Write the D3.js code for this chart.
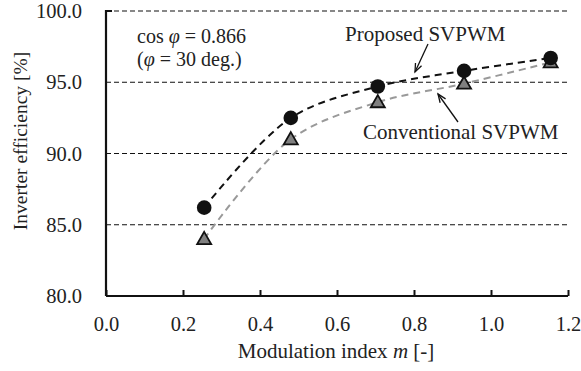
<!DOCTYPE html>
<html>
<head>
<meta charset="utf-8">
<script src="https://cdn.jsdelivr.net/npm/d3@7"></script>
<style>
  body { margin: 0; background: #fff; }
  text { font-family: "Liberation Serif", "Times New Roman", serif; fill: #222; }
</style>
</head>
<body>
<div id="chart"></div>
<script>
// datos
const modIndex = [0.255, 0.48, 0.706, 0.93, 1.155]
const proposed = [86.2, 92.5, 94.7, 95.8, 96.7]
const conventional = [84.0, 91.0, 93.6, 94.9, 96.4]
const xTicks = [0, 0.2, 0.4, 0.6, 0.8, 1.0, 1.2]
const yTicks = [80, 85, 90, 95, 100]

const width = 581
const height = 371
const margin = { top: 11, bottom: 75, left: 106, right: 13 }
const fs = "21px"

const svg = d3.select("div#chart").append("svg").attr("width", width).attr("height", height)

const x = d3.scaleLinear().domain([0, 1.2]).range([margin.left, width - margin.right])
const y = d3.scaleLinear().domain([80, 100]).range([height - margin.bottom, margin.top])

// lineas de rejilla discontinuas
svg.append("g").selectAll("line").data(yTicks.filter(d => d > 80)).enter()
    .append("line")
    .attr("x1", x(0)).attr("x2", x(1.2))
    .attr("y1", d => y(d)).attr("y2", d => y(d))
    .attr("stroke", "#111").attr("stroke-width", 1.2)
    .attr("stroke-dasharray", "5,3")

// ejes
const xAxis = d3.axisBottom(x).tickValues(xTicks).tickSize(-6).tickPadding(20).tickFormat(d3.format(".1f"))
const yAxis = d3.axisLeft(y).tickValues(yTicks).tickSize(0).tickPadding(24).tickFormat(d3.format(".1f"))

const xAxisGroup = svg.append("g").attr("transform", `translate(0, ${y(80)})`).call(xAxis)
const yAxisGroup = svg.append("g").attr("transform", `translate(${x(0)}, 0)`).call(yAxis)

;[xAxisGroup, yAxisGroup].forEach(g => {
    g.attr("font-family", null)
    g.select(".domain").attr("stroke", "#111").attr("stroke-width", 2.2)
    g.selectAll(".tick line").attr("stroke", "#111").attr("stroke-width", 2)
    g.selectAll("text").style("font-family", "'Liberation Serif', serif").style("font-size", "20.5px").attr("fill", "#222")
})
xAxisGroup.select(".domain").attr("d", `M${x(0)},0H${x(1.2)}`)
yAxisGroup.select(".domain").attr("d", `M6,${y(100)}H0V${y(80)}`)

// curvas
const line = d3.line().curve(d3.curveCatmullRom.alpha(0.5))
    .x(d => x(d[0])).y(d => y(d[1]))

svg.append("path")
    .attr("d", line(modIndex.map((m, i) => [m, conventional[i]])))
    .attr("fill", "none").attr("stroke", "#999").attr("stroke-width", 2)
    .attr("stroke-dasharray", "7,5")
svg.append("path")
    .attr("d", line(modIndex.map((m, i) => [m, proposed[i]])))
    .attr("fill", "none").attr("stroke", "#111").attr("stroke-width", 2)
    .attr("stroke-dasharray", "7,5")

// marcadores
const tri = d3.symbol().type(d3.symbolTriangle).size(85)
svg.append("g").selectAll("path").data(modIndex).enter()
    .append("path")
    .attr("d", tri)
    .attr("transform", (d, i) => `translate(${x(d)}, ${y(conventional[i]) + 1})`)
    .attr("fill", "#808080").attr("stroke", "#111").attr("stroke-width", 1.8)

svg.append("g").selectAll("circle").data(modIndex).enter()
    .append("circle")
    .attr("cx", d => x(d))
    .attr("cy", (d, i) => y(proposed[i]))
    .attr("r", 7.3)
    .attr("fill", "#111")

// titulos de ejes
svg.append("text")
    .attr("transform", `translate(27, 141) rotate(-90)`)
    .attr("text-anchor", "middle")
    .style("font-size", "19.5px")
    .text("Inverter efficiency [%]")

const xt = svg.append("text")
    .attr("x", 336).attr("y", 358)
    .attr("text-anchor", "middle")
    .style("font-size", fs)
xt.append("tspan").text("Modulation index ")
xt.append("tspan").style("font-style", "italic").text("m")
xt.append("tspan").text(" [-]")

// anotaciones
const t1 = svg.append("text").attr("x", 137).attr("y", 43).style("font-size", "20px")
t1.append("tspan").text("cos ")
t1.append("tspan").style("font-style", "italic").text("φ")
t1.append("tspan").text(" = 0.866")
const t2 = svg.append("text").attr("x", 137).attr("y", 66).style("font-size", "20px")
t2.append("tspan").text("(")
t2.append("tspan").style("font-style", "italic").text("φ")
t2.append("tspan").text(" = 30 deg.)")

svg.append("text").attr("x", 345).attr("y", 41).style("font-size", fs).text("Proposed SVPWM")
svg.append("text").attr("x", 363).attr("y", 139).style("font-size", fs).text("Conventional SVPWM")

// flechas
function arrow(x1, y1, x2, y2) {
    svg.append("line").attr("x1", x1).attr("y1", y1).attr("x2", x2).attr("y2", y2)
        .attr("stroke", "#111").attr("stroke-width", 1.3)
    const a = Math.atan2(y2 - y1, x2 - x1)
    const L = 9, s = 0.38
    svg.append("path")
        .attr("d", `M${x2 - L * Math.cos(a - s)},${y2 - L * Math.sin(a - s)}L${x2},${y2}L${x2 - L * Math.cos(a + s)},${y2 - L * Math.sin(a + s)}`)
        .attr("fill", "none").attr("stroke", "#111").attr("stroke-width", 1.3)
}
arrow(428, 44, 415, 72)
arrow(458, 122, 438, 94)
</script>
</body>
</html>
